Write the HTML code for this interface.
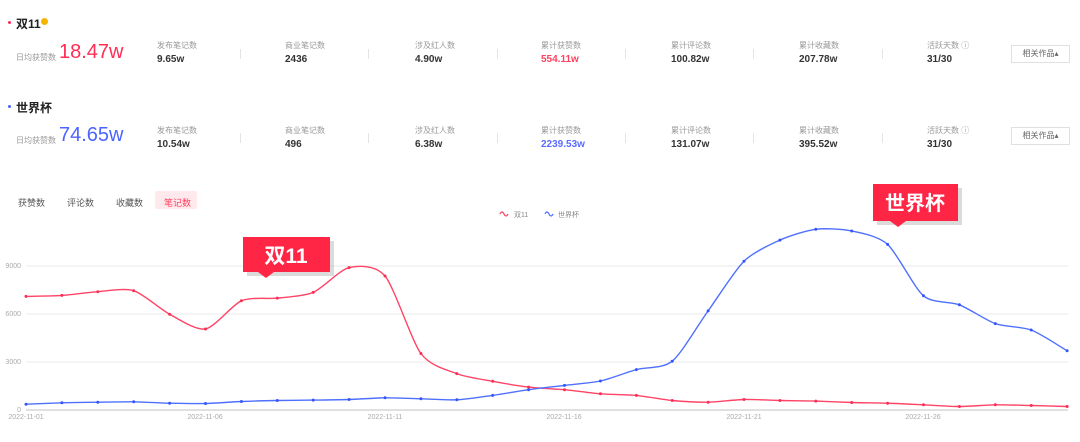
<!DOCTYPE html>
<html><head><meta charset="utf-8"><style>
body{margin:0;width:1080px;height:442px;background:#fff;font-family:"Liberation Sans","Noto Sans CJK SC",sans-serif;position:relative;overflow:hidden;color:#333}
.a{position:absolute;white-space:nowrap}
.t{font-size:12px;font-weight:bold;color:#222}
.lb{font-size:8px;color:#999}
.v{font-size:10px;font-weight:bold;color:#333}
.sep{position:absolute;width:1px;height:10px;background:#e4e4e4}
.btn{position:absolute;width:57px;height:16px;border:1px solid #e0e0e0;font-size:8px;color:#666;text-align:center;line-height:16px}
.tab{font-size:9px;color:#555}
</style></head><body>
<div class="a" style="left:8px;top:21px;width:3px;height:3px;border-radius:50%;background:#ff2d55"></div>
<div class="a t" style="left:16px;top:15px">双11</div>
<div class="a" style="left:41px;top:18px;width:7px;height:7px;border-radius:50%;background:#f5b400"></div>
<div class="a lb" style="left:16px;top:52px">日均获赞数</div>
<div class="a" style="left:59px;top:41px;font-size:20px;color:#ff2d55">18.47w</div>
<div class="a t" style="left:16px;top:99px">世界杯</div>
<div class="a" style="left:8px;top:105px;width:3px;height:3px;border-radius:50%;background:#4466ff"></div>
<div class="a lb" style="left:16px;top:135px">日均获赞数</div>
<div class="a" style="left:59px;top:124px;font-size:20px;color:#4b63ff">74.65w</div>

<div class="a lb" style="left:157px;top:40px">发布笔记数</div><div class="a v" style="left:157px;top:54px">9.65w</div>
<div class="a lb" style="left:285px;top:40px">商业笔记数</div><div class="a v" style="left:285px;top:54px">2436</div>
<div class="a lb" style="left:415px;top:40px">涉及红人数</div><div class="a v" style="left:415px;top:54px">4.90w</div>
<div class="a lb" style="left:541px;top:40px">累计获赞数</div><div class="a v" style="left:541px;top:54px;color:#ff4060">554.11w</div>
<div class="a lb" style="left:671px;top:40px">累计评论数</div><div class="a v" style="left:671px;top:54px">100.82w</div>
<div class="a lb" style="left:799px;top:40px">累计收藏数</div><div class="a v" style="left:799px;top:54px">207.78w</div>
<div class="a lb" style="left:927px;top:40px">活跃天数 ⓘ</div><div class="a v" style="left:927px;top:54px">31/30</div>
<div class="btn" style="left:1011px;top:45px">相关作品▴</div>

<div class="a lb" style="left:157px;top:125px">发布笔记数</div><div class="a v" style="left:157px;top:139px">10.54w</div>
<div class="a lb" style="left:285px;top:125px">商业笔记数</div><div class="a v" style="left:285px;top:139px">496</div>
<div class="a lb" style="left:415px;top:125px">涉及红人数</div><div class="a v" style="left:415px;top:139px">6.38w</div>
<div class="a lb" style="left:541px;top:125px">累计获赞数</div><div class="a v" style="left:541px;top:139px;color:#5a6cff">2239.53w</div>
<div class="a lb" style="left:671px;top:125px">累计评论数</div><div class="a v" style="left:671px;top:139px">131.07w</div>
<div class="a lb" style="left:799px;top:125px">累计收藏数</div><div class="a v" style="left:799px;top:139px">395.52w</div>
<div class="a lb" style="left:927px;top:125px">活跃天数 ⓘ</div><div class="a v" style="left:927px;top:139px">31/30</div>
<div class="btn" style="left:1011px;top:127px">相关作品▴</div>

<div class="sep" style="left:240px;top:49px"></div><div class="sep" style="left:368px;top:49px"></div><div class="sep" style="left:497px;top:49px"></div><div class="sep" style="left:625px;top:49px"></div><div class="sep" style="left:753px;top:49px"></div><div class="sep" style="left:882px;top:49px"></div>
<div class="sep" style="left:240px;top:133px"></div><div class="sep" style="left:368px;top:133px"></div><div class="sep" style="left:497px;top:133px"></div><div class="sep" style="left:625px;top:133px"></div><div class="sep" style="left:753px;top:133px"></div><div class="sep" style="left:882px;top:133px"></div>

<div class="a tab" style="left:18px;top:196px">获赞数</div>
<div class="a tab" style="left:67px;top:196px">评论数</div>
<div class="a tab" style="left:116px;top:196px">收藏数</div>
<div class="a" style="left:155px;top:191px;width:42px;height:18px;background:#ffe9ec;border-radius:2px"></div>
<div class="a tab" style="left:164px;top:196px;color:#ff4060">笔记数</div>

<svg class="a" style="left:0;top:0" width="1080" height="442">
<g stroke="#e8e8e8" stroke-width="1">
<line x1="26" y1="266" x2="1068" y2="266"/><line x1="26" y1="314" x2="1068" y2="314"/><line x1="26" y1="362" x2="1068" y2="362"/>
</g>
<line x1="26" y1="410" x2="1068" y2="410" stroke="#d5d5d5" stroke-width="1.5"/>
<g font-size="7" fill="#aaa" text-anchor="end" font-family="Liberation Sans">
<text x="21" y="268">9000</text><text x="21" y="316">6000</text><text x="21" y="364">3000</text><text x="21" y="412">0</text>
</g>
<g font-size="7" fill="#aaa" text-anchor="middle" font-family="Liberation Sans">
<text x="26" y="419">2022-11-01</text><text x="205" y="419">2022-11-06</text><text x="385" y="419">2022-11-11</text><text x="564" y="419">2022-11-16</text><text x="744" y="419">2022-11-21</text><text x="923" y="419">2022-11-26</text>
</g>
<path d="M500 214 q2 -4 4 0 t4 0" stroke="#ff4060" fill="none" stroke-width="1.2"/>
<text x="514" y="217" font-size="7" fill="#888">双11</text>
<path d="M545 214 q2 -4 4 0 t4 0" stroke="#4b6bff" fill="none" stroke-width="1.2"/>
<text x="558" y="217" font-size="7" fill="#888">世界杯</text>
<path id="red" fill="none" stroke="#ff4466" stroke-width="1.4"/>
<path id="blue" fill="none" stroke="#4f70ff" stroke-width="1.4"/>
<g id="dots"></g>
<g>
<rect x="245" y="239" width="87" height="35" fill="#999" opacity="0.35" transform="translate(2,2)"/>
<rect x="243" y="237" width="87" height="35" fill="#ff2545"/>
<path d="M258 272 l8 6 l8 -6z" fill="#ff2545"/>
<text x="286" y="263" font-size="21" font-weight="bold" fill="#fff" text-anchor="middle" font-family="Liberation Sans,'Noto Sans CJK SC',sans-serif">双11</text>
<rect x="875" y="186" width="85" height="37" fill="#999" opacity="0.35" transform="translate(2,2)"/>
<rect x="873" y="184" width="85" height="37" fill="#ff2545"/>
<path d="M890 221 l8 6 l8 -6z" fill="#ff2545"/>
<text x="915" y="210" font-size="20" font-weight="bold" fill="#fff" text-anchor="middle" font-family="'Noto Sans CJK SC',sans-serif">世界杯</text>
</g>
</svg>
<script>
var R=[296.4,295.4,291.7,290.7,314.2,329,300.8,298.1,292.4,267.6,276,353.5,373.6,381.3,387.1,389.7,393.8,395.4,400.5,402.2,399.5,400.5,401.1,402.5,403.2,404.8,406.5,404.8,405.5,406.5];
var B=[404.2,402.8,402.2,401.8,403.2,403.5,401.5,400.5,400.1,399.5,397.8,398.8,399.8,395.4,389.7,385.4,381,369.6,361.2,310.9,261.2,240.1,229.3,231,244.4,295.8,304.8,323.6,330,350.8];
function pts(a){return a.map(function(y,i){return [26+35.9*i,y]})}
function path(p){var d="M"+p[0][0]+" "+p[0][1];for(var i=0;i<p.length-1;i++){var p0=p[i-1]||p[i],p1=p[i],p2=p[i+1],p3=p[i+2]||p2;var t=0.13;d+=" C"+(p1[0]+(p2[0]-p0[0])*t)+" "+(p1[1]+(p2[1]-p0[1])*t)+" "+(p2[0]-(p3[0]-p1[0])*t)+" "+(p2[1]-(p3[1]-p1[1])*t)+" "+p2[0]+" "+p2[1];}return d}
var r=pts(R),b=pts(B);
document.getElementById("red").setAttribute("d",path(r));
document.getElementById("blue").setAttribute("d",path(b));
var g="";r.forEach(function(p){g+='<circle cx="'+p[0]+'" cy="'+p[1]+'" r="1.5" fill="#ff2d55"/>'});b.forEach(function(p){g+='<circle cx="'+p[0]+'" cy="'+p[1]+'" r="1.5" fill="#3355ff"/>'});
document.getElementById("dots").innerHTML=g;
</script>
</body></html>
